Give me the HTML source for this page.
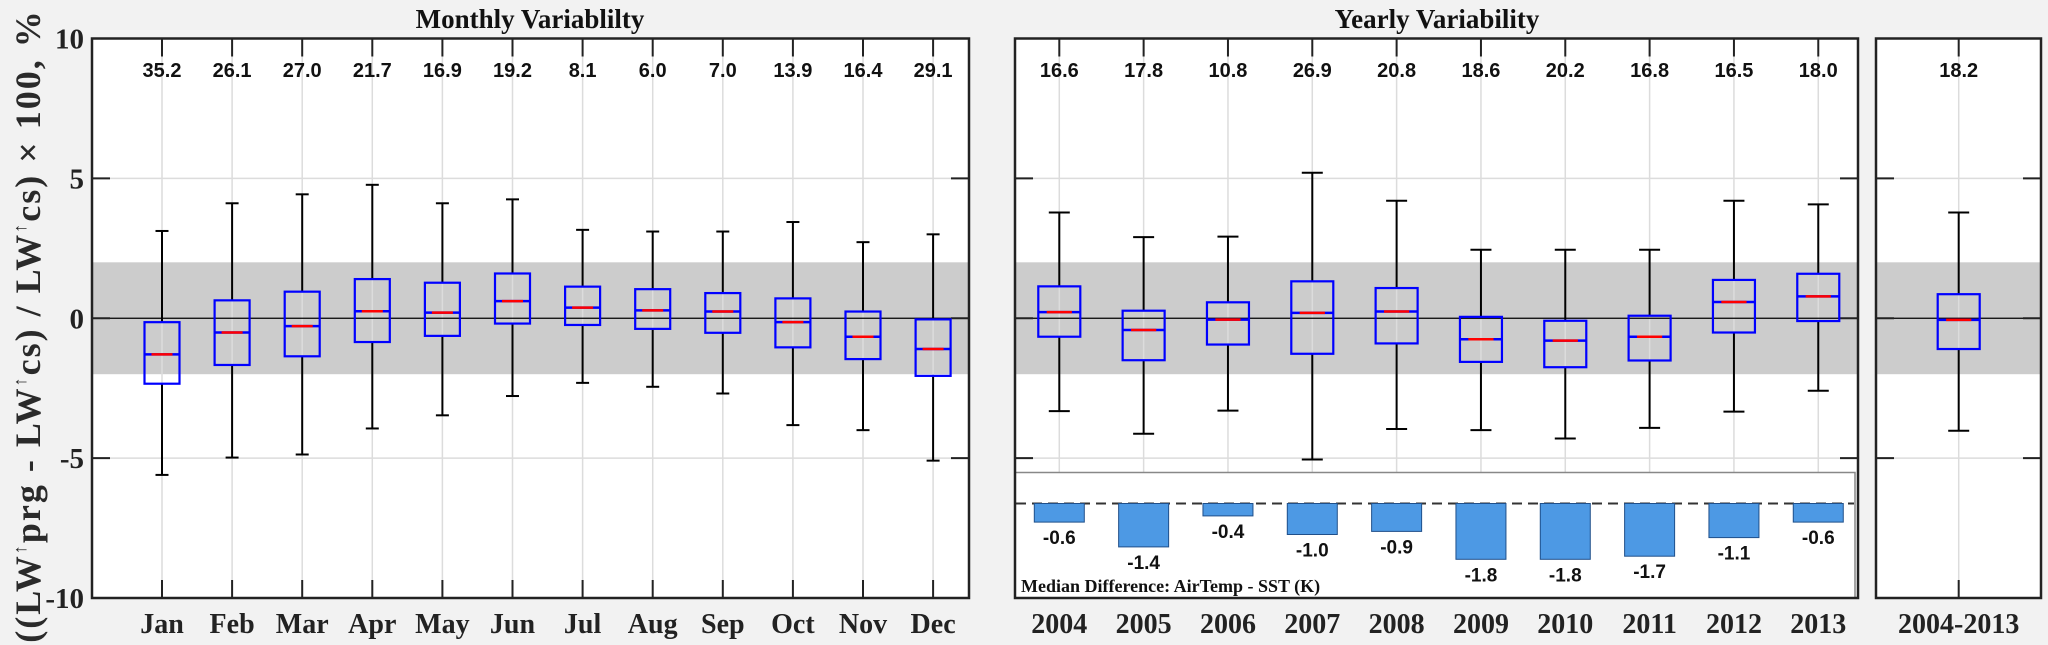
<!DOCTYPE html>
<html><head><meta charset="utf-8">
<style>
html,body{margin:0;padding:0;background:#f2f2f2;}
svg{display:block;}
</style></head>
<body>
<svg id="chart" width="2048" height="645" viewBox="0 0 2048 645" xmlns="http://www.w3.org/2000/svg">
<text transform="translate(40,326) rotate(-90)" text-anchor="middle" font-family="Liberation Serif, serif" font-size="36" font-weight="bold" letter-spacing="2" fill="#2a2a2a">((LW<tspan font-size="18" dy="-14">↑</tspan><tspan dy="14">prg - LW</tspan><tspan font-size="18" dy="-14">↑</tspan><tspan dy="14">cs)  /  LW</tspan><tspan font-size="18" dy="-14">↑</tspan><tspan dy="14">cs) × 100, %</tspan></text>
<text x="530" y="28" text-anchor="middle" font-family="Liberation Serif, serif" font-size="27" font-weight="bold" fill="#111">Monthly Variablilty</text>
<text x="1437" y="28" text-anchor="middle" font-family="Liberation Serif, serif" font-size="27" font-weight="bold" fill="#111">Yearly Variability</text>
</svg>
<script>
// ---- data ----
const months = ['Jan','Feb','Mar','Apr','May','Jun','Jul','Aug','Sep','Oct','Nov','Dec'];
const monthPct = ['35.2','26.1','27.0','21.7','16.9','19.2','8.1','6.0','7.0','13.9','16.4','29.1'];
const monthHigh = [3.12,4.11,4.43,4.77,4.11,4.25,3.16,3.1,3.1,3.44,2.72,3.0];
const monthQ3 = [-0.14,0.64,0.95,1.40,1.27,1.6,1.13,1.04,0.9,0.71,0.24,-0.04];
const monthMed = [-1.29,-0.51,-0.28,0.25,0.2,0.61,0.38,0.28,0.24,-0.14,-0.66,-1.1];
const monthQ1 = [-2.34,-1.67,-1.36,-0.85,-0.63,-0.19,-0.24,-0.38,-0.52,-1.04,-1.46,-2.06];
const monthLow = [-5.6,-4.98,-4.87,-3.94,-3.47,-2.78,-2.31,-2.45,-2.69,-3.82,-4.0,-5.09];

const years = ['2004','2005','2006','2007','2008','2009','2010','2011','2012','2013'];
const yearPct = ['16.6','17.8','10.8','26.9','20.8','18.6','20.2','16.8','16.5','18.0'];
const yearHigh = [3.78,2.9,2.92,5.2,4.2,2.45,2.45,2.45,4.2,4.07];
const yearQ3 = [1.14,0.27,0.57,1.32,1.08,0.05,-0.09,0.09,1.37,1.59];
const yearMed = [0.22,-0.42,-0.05,0.19,0.24,-0.75,-0.8,-0.66,0.58,0.78];
const yearQ1 = [-0.66,-1.5,-0.94,-1.27,-0.9,-1.56,-1.75,-1.51,-0.51,-0.1];
const yearLow = [-3.32,-4.13,-3.3,-5.05,-3.96,-4.0,-4.3,-3.92,-3.34,-2.59];
const tempDiff = [-0.6,-1.4,-0.4,-1.0,-0.9,-1.8,-1.8,-1.7,-1.1,-0.6];

const allLabel = ['2004-2013'];
const allPct = ['18.2'];
const allHigh = [3.78];
const allQ3 = [0.86];
const allMed = [-0.06];
const allQ1 = [-1.1];
const allLow = [-4.02];

const yTicks = [10,5,0,-5,-10];

// ---- drawing ----
const NS='http://www.w3.org/2000/svg';
const svg=document.getElementById('chart');
function mk(tag, attrs, parent){
  const e=document.createElementNS(NS,tag);
  for(const k in attrs) e.setAttribute(k,attrs[k]);
  (parent||svg).appendChild(e);
  return e;
}
const yTop=38.5, yBot=598;
function yS(v){ return yTop + (10 - v) * (yBot - yTop) / 20; }

function panel(name, x0, x1, cats, x0c, dx, pct, hi, q3, md, q1, lo, boxW, capW, labelFont){
  const g=mk('g',{});
  
  
  const xS = i => x0c + i*dx;
  const bg=mk('rect',{x:x0,y:yTop,width:x1-x0,height:yBot-yTop,fill:'#fff'},g);
  
  
  const band=mk('rect',{x:x0,y:yS(2),width:x1-x0,height:yS(-2)-yS(2),fill:'#cccccc'},g);
  
  
  [5,-5].forEach(v=>{
    const gl=mk('line',{x1:x0,x2:x1,y1:yS(v),y2:yS(v),stroke:'#dcdcdc','stroke-width':1.5},g);
    
    
  });
  cats.forEach((c,i)=>{
    const gl=mk('line',{x1:xS(i),x2:xS(i),y1:yTop,y2:yBot,stroke:'#dcdcdc','stroke-width':1.5},g);
    
    
  });
  const zl=mk('line',{x1:x0,x2:x1,y1:yS(0),y2:yS(0),stroke:'#000','stroke-width':1.3},g);
  
  
  yTicks.forEach(v=>{
    const t1=mk('line',{x1:x0,x2:x0+18,y1:yS(v),y2:yS(v),stroke:'#222','stroke-width':2},g);
    
    
    const t2=mk('line',{x1:x1-18,x2:x1,y1:yS(v),y2:yS(v),stroke:'#222','stroke-width':2},g);
    
    
  });
  cats.forEach((c,i)=>{
    const x=xS(i);
    const tt=mk('line',{x1:x,x2:x,y1:yTop,y2:yTop+18,stroke:'#222','stroke-width':2},g);
    
    
    const tb=mk('line',{x1:x,x2:x,y1:yBot-18,y2:yBot,stroke:'#222','stroke-width':2},g);
    
    
    const w1=mk('line',{x1:x,x2:x,y1:yS(hi[i]),y2:yS(q3[i]),stroke:'#000','stroke-width':2},g);
    
    
    const w2=mk('line',{x1:x,x2:x,y1:yS(q1[i]),y2:yS(lo[i]),stroke:'#000','stroke-width':2},g);
    
    
    const c1=mk('line',{x1:x-capW/2,x2:x+capW/2,y1:yS(hi[i]),y2:yS(hi[i]),stroke:'#000','stroke-width':2},g);
    
    
    const c2=mk('line',{x1:x-capW/2,x2:x+capW/2,y1:yS(lo[i]),y2:yS(lo[i]),stroke:'#000','stroke-width':2},g);
    
    
    const bx=mk('rect',{x:x-boxW/2,y:yS(q3[i]),width:boxW,height:yS(q1[i])-yS(q3[i]),fill:'none',stroke:'#0000ff','stroke-width':2.2},g);
    
    
    const mb=mk('line',{x1:x-boxW/2,x2:x+boxW/2,y1:yS(md[i]),y2:yS(md[i]),stroke:'#0000ff','stroke-width':2.5},g);
    
    
    const mr=mk('line',{x1:x-boxW*0.3,x2:x+boxW*0.3,y1:yS(md[i]),y2:yS(md[i]),stroke:'#ff0000','stroke-width':2.5},g);
    
    
    const pt=mk('text',{x:x,y:77,'text-anchor':'middle','font-family':'Liberation Sans, sans-serif','font-size':20,'font-weight':'bold',fill:'#111'},g);
    pt.textContent=pct[i];
    
    
    const xl=mk('text',{x:x,y:633,'text-anchor':'middle','font-family':'Liberation Serif, serif','font-size':labelFont,'font-weight':'bold',fill:'#222'},g);
    xl.textContent=c;
    
    
  });
  return {g, xS};
}

const P1=panel('monthly-panel',92,969,months,162,70.1,monthPct,monthHigh,monthQ3,monthMed,monthQ1,monthLow,35,13,28);
const P2=panel('yearly-panel',1015,1858,years,1059.3,84.33,yearPct,yearHigh,yearQ3,yearMed,yearQ1,yearLow,42,21,28);

// inset
const ins=mk('g',{},P2.g);


const ir=mk('rect',{x:1015,y:472.5,width:840,height:125.5,fill:'#fff',stroke:'#888','stroke-width':1.5},ins);


const base=503.5, kpx=31;
const dl=mk('line',{x1:1016,x2:1854,y1:base,y2:base,stroke:'#333','stroke-width':2,'stroke-dasharray':'10,6'},ins);


tempDiff.forEach((v,i)=>{
  const x=P2.xS(i);
  const h=Math.abs(v)*kpx;
  const b=mk('rect',{x:x-25,y:base,width:50,height:h,fill:'#4d99e4',stroke:'#1f4f8a','stroke-width':1},ins);
  
  
  const t=mk('text',{x:x,y:base+h+22,'text-anchor':'middle','font-family':'Liberation Sans, sans-serif','font-size':19,'font-weight':'bold',fill:'#111'},ins);
  t.textContent=v.toFixed(1);
  
  
});
const it=mk('text',{x:1021,y:592,'font-family':'Liberation Serif, serif','font-size':18,'font-weight':'bold',fill:'#111'},ins);
it.textContent='Median Difference: AirTemp - SST (K)';



const P3=panel('overall-panel',1876,2041,allLabel,1958.7,0,allPct,allHigh,allQ3,allMed,allQ1,allLow,42,21,28);

// frames on top
[[92,969],[1015,1858],[1876,2041]].forEach(([a,b])=>{
  const f=mk('rect',{x:a,y:yTop,width:b-a,height:yBot-yTop,fill:'none',stroke:'#222','stroke-width':2.5});
  
  
});

// y tick labels
yTicks.forEach(v=>{
  const t=mk('text',{x:84,y:yS(v)+10,'text-anchor':'end','font-family':'Liberation Serif, serif','font-size':29,'font-weight':'bold',fill:'#222'});
  t.textContent=String(v);
  
  
});
</script>
</body></html>
